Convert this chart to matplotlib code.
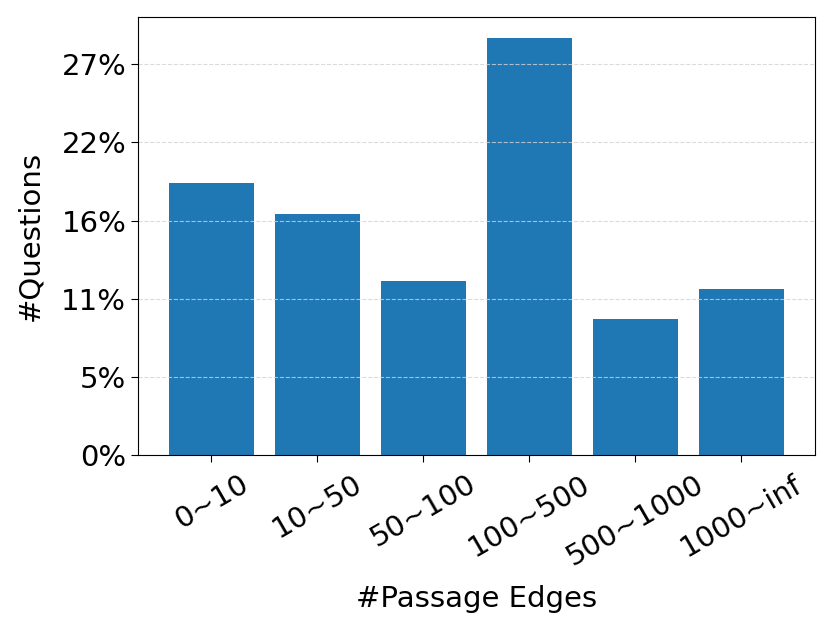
import numpy as np
import matplotlib
matplotlib.use("Agg")
import matplotlib.pyplot as plt
from matplotlib.ticker import FuncFormatter

categories = ["0~10", "10~50", "50~100", "100~500", "500~1000", "1000~inf"]
# share of questions, in percent
shares = [19.0, 16.8, 12.1, 29.1, 9.45, 11.55]
tick_step = 5.45

fig = plt.figure(figsize=(8.27, 6.29), dpi=100)
ax = fig.add_axes([0.167, 0.277, 0.818, 0.696])

x = np.arange(len(categories))
ax.bar(x, shares, width=0.8, color="#1f77b4")

ax.set_yticks(np.arange(6) * tick_step)
ax.yaxis.set_major_formatter(FuncFormatter(lambda v, p: "{:.0f}%".format(v)))
ax.set_xticks(x)
ax.set_xticklabels(categories, rotation=30)
ax.tick_params(labelsize=21, length=5)
ax.tick_params(axis="x", pad=6)

ax.grid(axis="y", linestyle="--", color="lightgray", alpha=0.8)

ax.set_xlabel("#Passage Edges", fontsize=21, labelpad=10)
ax.set_ylabel("#Questions", fontsize=21, labelpad=12)

fig.savefig("out.png", dpi=100)
